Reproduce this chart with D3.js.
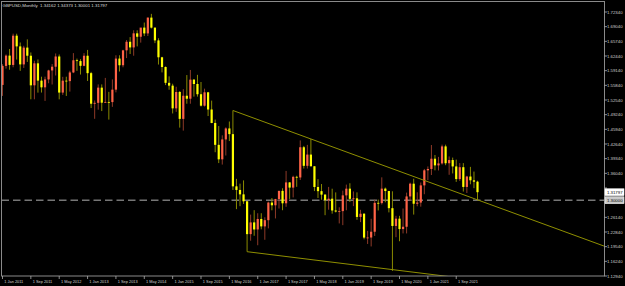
<!DOCTYPE html>
<html>
<head>
<meta charset="utf-8">
<script src="https://cdn.jsdelivr.net/npm/d3@7"></script>
<style>
  html, body { margin: 0; padding: 0; background: #000; }
  svg { display: block; }
  text { font-family: "Liberation Sans", Arial, sans-serif; }
</style>
</head>
<body>
<svg id="chart" width="625" height="286"></svg>
<script>
// GBPUSD monthly, Jan 2011 .. Mar 2022 (one entry per month)
var opens = [
  1.5593, 1.6021, 1.6253, 1.6043, 1.6701, 1.6460, 1.6055, 1.6433, 1.6250, 1.5584, 1.6079, 1.5690,
  1.5539, 1.5717, 1.5919, 1.6003, 1.6233, 1.5421, 1.5689, 1.5679, 1.5874, 1.6148, 1.6130, 1.6023,
  1.6250, 1.5858, 1.5170, 1.5190, 1.5532, 1.5193, 1.5210, 1.5207, 1.5487, 1.6186, 1.6036, 1.6371,
  1.6564, 1.6437, 1.6754, 1.6677, 1.6883, 1.6752, 1.7108, 1.6882, 1.6595, 1.6215, 1.5996, 1.5640,
  1.5577, 1.5066, 1.5434, 1.4829, 1.5350, 1.5283, 1.5712, 1.5614, 1.5384, 1.5126, 1.5427, 1.5040,
  1.4737, 1.4245, 1.3919, 1.4367, 1.4614, 1.4486, 1.3311, 1.3230, 1.3131, 1.2975, 1.2236, 1.2500,
  1.2341, 1.2577, 1.2410, 1.2550, 1.2946, 1.2885, 1.3025, 1.3209, 1.2930, 1.3400, 1.3283, 1.3525,
  1.3511, 1.4191, 1.3773, 1.4026, 1.3763, 1.3297, 1.3203, 1.3125, 1.2999, 1.3033, 1.2768, 1.2744,
  1.2754, 1.3108, 1.3259, 1.3030, 1.3042, 1.2623, 1.2695, 1.2158, 1.2160, 1.2290, 1.2940, 1.2934,
  1.3260, 1.3206, 1.2820, 1.2420, 1.2584, 1.2350, 1.2402, 1.3084, 1.3371, 1.2920, 1.2946, 1.3333,
  1.3672, 1.3702, 1.3933, 1.3783, 1.3827, 1.4210, 1.3831, 1.3903, 1.3759, 1.3475, 1.3742, 1.3298,
  1.3532, 1.3447, 1.34162
]
var highs = [
  1.6059, 1.6279, 1.6402, 1.6747, 1.6745, 1.6548, 1.6474, 1.6618, 1.6324, 1.6138, 1.6166, 1.5778,
  1.5779, 1.5934, 1.6062, 1.6301, 1.6278, 1.5776, 1.5778, 1.5911, 1.6309, 1.6185, 1.6173, 1.6308,
  1.6381, 1.5887, 1.5243, 1.5605, 1.5605, 1.5751, 1.5437, 1.5717, 1.6260, 1.6260, 1.6384, 1.6603,
  1.6669, 1.6823, 1.6822, 1.6855, 1.6997, 1.7110, 1.7192, 1.6885, 1.6644, 1.6226, 1.6010, 1.5786,
  1.5620, 1.5552, 1.5456, 1.5498, 1.5815, 1.5930, 1.5725, 1.5820, 1.5659, 1.5509, 1.5436, 1.5240,
  1.4814, 1.4668, 1.4459, 1.4639, 1.4770, 1.5018, 1.3480, 1.3372, 1.3445, 1.2976, 1.2675, 1.2775,
  1.2706, 1.2706, 1.2615, 1.2966, 1.3048, 1.3030, 1.3213, 1.3268, 1.3658, 1.3406, 1.3550, 1.3549,
  1.4345, 1.4221, 1.4244, 1.4377, 1.3765, 1.3473, 1.3363, 1.3137, 1.3298, 1.3258, 1.3175, 1.2840,
  1.3215, 1.3350, 1.3381, 1.3196, 1.3176, 1.2783, 1.2708, 1.2310, 1.2582, 1.3013, 1.3013, 1.3514,
  1.3284, 1.3210, 1.3200, 1.2648, 1.2648, 1.2813, 1.3170, 1.3394, 1.3482, 1.3177, 1.3398, 1.3703,
  1.3759, 1.4241, 1.4017, 1.3974, 1.4250, 1.4249, 1.3984, 1.3958, 1.3913, 1.3834, 1.3834, 1.3548,
  1.3749, 1.3644, 1.34373
]
var lows = [
  1.5346, 1.5960, 1.5935, 1.5990, 1.6164, 1.5910, 1.5975, 1.6111, 1.5270, 1.5270, 1.5420, 1.5422,
  1.5233, 1.5631, 1.5603, 1.5805, 1.5269, 1.5369, 1.5345, 1.5443, 1.5858, 1.5910, 1.5827, 1.6013,
  1.5682, 1.5073, 1.4831, 1.5036, 1.5005, 1.5189, 1.4813, 1.5100, 1.5426, 1.5895, 1.5990, 1.6197,
  1.6290, 1.6250, 1.6460, 1.6545, 1.6692, 1.6693, 1.6863, 1.6534, 1.6052, 1.5875, 1.5590, 1.5485,
  1.4951, 1.4987, 1.4633, 1.4565, 1.5170, 1.5170, 1.5330, 1.5330, 1.5108, 1.5106, 1.4893, 1.4732,
  1.4079, 1.3835, 1.3801, 1.4005, 1.4330, 1.3229, 1.2798, 1.2865, 1.2915, 1.1841, 1.2088, 1.2199,
  1.1986, 1.2345, 1.2109, 1.2365, 1.2772, 1.2589, 1.2812, 1.2774, 1.2851, 1.3028, 1.3062, 1.3300,
  1.3455, 1.3712, 1.3712, 1.3758, 1.3205, 1.3049, 1.3010, 1.2662, 1.2786, 1.2696, 1.2724, 1.2477,
  1.2438, 1.2773, 1.2960, 1.2866, 1.2559, 1.2506, 1.2119, 1.2015, 1.1959, 1.2195, 1.2769, 1.2902,
  1.2953, 1.2725, 1.1409, 1.2167, 1.2076, 1.2252, 1.2252, 1.2981, 1.2676, 1.2863, 1.2854, 1.3134,
  1.3451, 1.3566, 1.3671, 1.3669, 1.3800, 1.3787, 1.3571, 1.3602, 1.3412, 1.3434, 1.3194, 1.3161,
  1.3358, 1.3270, 1.30001
]
var closes = [
  1.6021, 1.6253, 1.6043, 1.6701, 1.6460, 1.6055, 1.6433, 1.6250, 1.5584, 1.6079, 1.5690, 1.5539,
  1.5717, 1.5919, 1.6003, 1.6233, 1.5421, 1.5689, 1.5679, 1.5874, 1.6148, 1.6130, 1.6023, 1.6250,
  1.5858, 1.5170, 1.5190, 1.5532, 1.5193, 1.5210, 1.5207, 1.5487, 1.6186, 1.6036, 1.6371, 1.6564,
  1.6437, 1.6754, 1.6677, 1.6883, 1.6752, 1.7108, 1.6882, 1.6595, 1.6215, 1.5996, 1.5640, 1.5577,
  1.5066, 1.5434, 1.4829, 1.5350, 1.5283, 1.5712, 1.5614, 1.5384, 1.5126, 1.5427, 1.5040, 1.4737,
  1.4245, 1.3919, 1.4367, 1.4614, 1.4486, 1.3311, 1.3230, 1.3131, 1.2975, 1.2236, 1.2500, 1.2341,
  1.2577, 1.2410, 1.2550, 1.2946, 1.2885, 1.3025, 1.3209, 1.2930, 1.3400, 1.3283, 1.3525, 1.3511,
  1.4191, 1.3773, 1.4026, 1.3763, 1.3297, 1.3203, 1.3125, 1.2999, 1.3033, 1.2768, 1.2744, 1.2754,
  1.3108, 1.3259, 1.3030, 1.3042, 1.2623, 1.2695, 1.2158, 1.2160, 1.2290, 1.2940, 1.2934, 1.3260,
  1.3206, 1.2820, 1.2420, 1.2584, 1.2350, 1.2402, 1.3084, 1.3371, 1.2920, 1.2946, 1.3333, 1.3672,
  1.3702, 1.3933, 1.3783, 1.3827, 1.4210, 1.3831, 1.3903, 1.3759, 1.3475, 1.3742, 1.3298, 1.3532,
  1.3447, 1.3416, 1.31797
]

// x axis labels every 8 bars
var xTickLabels = ['1 Jan 2011', '1 Sep 2011', '1 May 2012', '1 Jan 2013', '1 Sep 2013', '1 May 2014',
  '1 Jan 2015', '1 Sep 2015', '1 May 2016', '1 Jan 2017', '1 Sep 2017', '1 May 2018', '1 Jan 2019',
  '1 Sep 2019', '1 May 2020', '1 Jan 2021', '1 Sep 2021']
var xTickBars = [0, 8, 16, 24, 32, 40, 48, 56, 64, 72, 80, 88, 96, 104, 112, 120, 128]

var yTicks = ['1.12940', '1.16240', '1.19540', '1.22840', '1.26140', '1.29440', '1.32740', '1.36040',
  '1.39340', '1.42640', '1.45940', '1.49240', '1.52540', '1.55840', '1.59140', '1.62440',
  '1.65740', '1.69040', '1.72340']

var headerText = 'GBPUSD,Monthly  1.34162 1.34373 1.30001 1.31797'

// trend lines: [bar index, price] anchor pairs, drawn as rays
var upperTrend = [[65, 1.5018], [87, 1.4377]]
var lowerTrend = [[69, 1.1841], [110, 1.1438]]
var hLinePrice = 1.30000
var lastPrice = 1.31797

var bars = opens.map((o, i) => ({ i: i, o: o, h: highs[i], l: lows[i], c: closes[i] }))

var plot = { left: 1.5, right: 604.5, top: 1.5, bottom: 276 }

var svg = d3.select('#chart')

var x = d3.scaleLinear().domain([0, bars.length - 1]).range([2.5, 477.5])
var y = d3.scaleLinear().domain([1.1294, 1.7234]).range([276, 12])

svg.append('defs').append('clipPath').attr('id', 'plotclip')
  .append('rect')
  .attr('x', plot.left).attr('y', plot.top)
  .attr('width', plot.right - plot.left).attr('height', plot.bottom - plot.top)

var g = svg.append('g').attr('clip-path', 'url(#plotclip)')

// dashed horizontal line
g.append('line')
  .attr('x1', plot.left).attr('x2', plot.right)
  .attr('y1', y(hLinePrice)).attr('y2', y(hLinePrice))
  .attr('stroke', '#767676')
  .attr('stroke-width', 1.5)
  .attr('stroke-dasharray', '7.5,4')

// candles
var up = '#ff6347', down = '#ffff00'
var candle = g.selectAll('.candle').data(bars).enter().append('g').attr('class', 'candle')

candle.append('line')
  .attr('x1', (d) => x(d.i)).attr('x2', (d) => x(d.i))
  .attr('y1', (d) => y(d.h)).attr('y2', (d) => y(d.l))
  .attr('stroke', (d) => (d.c >= d.o ? '#8e3a28' : '#8a8a00'))
  .attr('stroke-width', 1)

candle.append('rect')
  .attr('x', (d) => x(d.i) - 1.1)
  .attr('width', 2.2)
  .attr('y', (d) => y(Math.max(d.o, d.c)))
  .attr('height', (d) => Math.max(0.8, Math.abs(y(d.o) - y(d.c))))
  .attr('fill', (d) => (d.c >= d.o ? up : down))

// trend rays
function ray(pts) {
  var x0 = x(pts[0][0]), y0 = y(pts[0][1])
  var x1 = x(pts[1][0]), y1 = y(pts[1][1])
  var slope = (y1 - y0) / (x1 - x0)
  var xe = plot.right
  return [[x0, y0], [xe, y0 + slope * (xe - x0)]]
}
;[upperTrend, lowerTrend].forEach((t) => {
  var p = ray(t)
  g.append('line')
    .attr('x1', p[0][0]).attr('y1', p[0][1])
    .attr('x2', p[1][0]).attr('y2', p[1][1])
    .attr('stroke', '#8f8f00')
    .attr('stroke-width', 1)
})

// frame
svg.append('rect')
  .attr('x', plot.left).attr('y', plot.top)
  .attr('width', plot.right - plot.left).attr('height', plot.bottom - plot.top)
  .attr('fill', 'none')
  .attr('stroke', '#8a8a8a')
  .attr('stroke-width', 1)

// y axis (labels hidden behind the price boxes are skipped)
var boxPrices = [lastPrice, hLinePrice]
var ya = svg.append('g')
yTicks.forEach((t) => {
  var yy = y(+t)
  ya.append('line').attr('x1', plot.right).attr('x2', plot.right + 2.5)
    .attr('y1', yy).attr('y2', yy).attr('stroke', '#b0b0b0').attr('stroke-width', 0.8)
  var hidden = boxPrices.some((p) => Math.abs(y(p) - yy) < 5)
  if (hidden) return
  ya.append('text').attr('x', 607).attr('y', yy + 1.5)
    .attr('font-size', 4.3).attr('fill', '#d0d0d0').text(t)
})

// x axis
var xa = svg.append('g')
xTickBars.forEach((b, k) => {
  var xx = x(b)
  xa.append('line').attr('x1', xx).attr('x2', xx)
    .attr('y1', plot.bottom).attr('y2', plot.bottom + 3)
    .attr('stroke', '#b0b0b0').attr('stroke-width', 0.8)
  xa.append('text').attr('x', xx + 1.8).attr('y', 283)
    .attr('font-size', 3.9).attr('fill', '#d0d0d0').text(xTickLabels[k])
})

// price boxes on the right axis
function priceBox(price, fill, label) {
  var yy = y(price)
  svg.append('rect').attr('x', 605).attr('y', yy - 3.4)
    .attr('width', 19).attr('height', 6.8)
    .attr('fill', fill).attr('stroke', '#ffffff').attr('stroke-width', 0.6)
  svg.append('text').attr('x', 607).attr('y', yy + 1.6)
    .attr('font-size', 4.3).attr('fill', '#000').text(label)
}
priceBox(lastPrice, '#ffffff', lastPrice.toFixed(5))
priceBox(hLinePrice, '#c8c8c8', hLinePrice.toFixed(5))

// header
svg.append('text').attr('x', 2.5).attr('y', 7)
  .attr('font-size', 4.4).attr('fill', '#d8d8d8')
  .style('white-space', 'pre')
  .text(headerText)
</script>
</body>
</html>
